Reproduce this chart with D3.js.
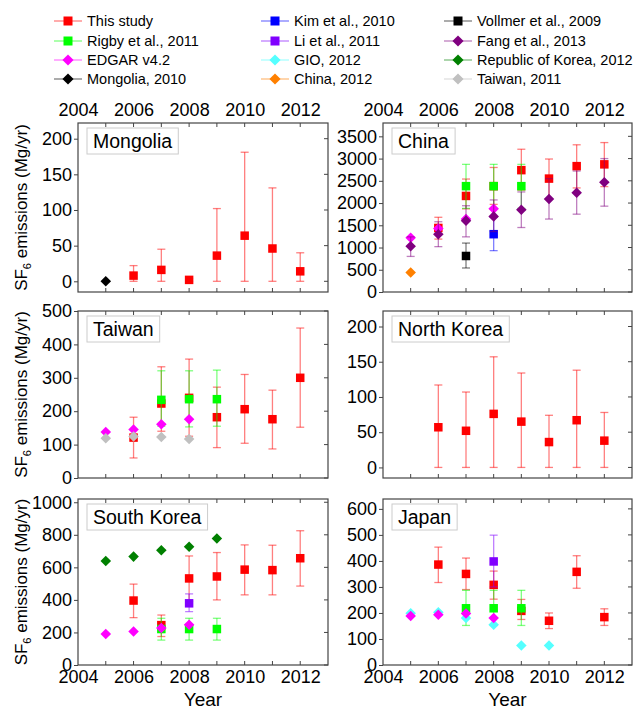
<!DOCTYPE html>
<html><head><meta charset="utf-8">
<script src="https://cdn.jsdelivr.net/npm/d3@7"></script>
<style>body{margin:0;background:#fff}svg{font-family:Arial,"Liberation Sans",sans-serif}</style>
</head><body><svg id="c" width="633" height="709"></svg>
<script>
// ---------- series definitions ----------
const seriesNames = ["This study","Kim et al., 2010","Vollmer et al., 2009","Rigby et al., 2011","Li et al., 2011","Fang et al., 2013","EDGAR v4.2","GIO, 2012","Republic of Korea, 2012","Mongolia, 2010","China, 2012","Taiwan, 2011"];
const seriesColors = ["#ff0000","#0000ff","#000000","#00ff00","#8000ff","#800080","#ff00ff","#55ffff","#008000","#000000","#ff8000","#c0c0c0"];
const seriesShapes = ["square","square","square","square","square","diamond","diamond","diamond","diamond","diamond","diamond","diamond"];
const drawOrder = [0,1,2,3,4,7,6,8,9,10,11,5];

// ---------- data: [year, value, lower, upper] ----------
const mongoliaThisStudy = [[2006,8,0,22],[2007,16,0,45],[2008,2,0,4],[2009,36,0,102],[2010,64,0,181],[2011,46,0,131],[2012,14,0,40]];
const mongoliaInventory = [[2005,0]];

const chinaThisStudy = [[2006,1440,1190,1680],[2007,2160,1870,2540],[2008,2380,1970,2800],[2009,2740,2290,3210],[2010,2550,2100,2990],[2011,2830,2340,3310],[2012,2870,2370,3360]];
const chinaRigby = [[2007,2380,1880,2870],[2008,2380,1880,2870],[2009,2380,1880,2870]];
const chinaKim = [[2008,1300,930,1680]];
const chinaVollmer = [[2007,810,540,1100]];
const chinaFang = [[2005,1030,800,1240],[2006,1300,1020,1580],[2007,1600,1240,1940],[2008,1700,1360,2070],[2009,1850,1450,2250],[2010,2090,1640,2550],[2011,2230,1750,2720],[2012,2470,1930,3000]];
const chinaEdgar = [[2005,1220],[2006,1430],[2007,1640],[2008,1870]];
const chinaInventory = [[2005,440]];

const taiwanThisStudy = [[2006,121,60,182],[2007,223,140,333],[2008,240,125,356],[2009,182,91,272],[2010,206,104,310],[2011,176,87,263],[2012,300,152,449]];
const taiwanRigby = [[2007,234,155,321],[2008,236,153,321],[2009,236,155,323]];
const taiwanEdgar = [[2005,138],[2006,145],[2007,161],[2008,176]];
const taiwanInventory = [[2005,119],[2006,124],[2007,123],[2008,117]];

const northKoreaThisStudy = [[2006,57,0,117],[2007,52,0,107],[2008,76,0,157],[2009,65,0,134],[2010,36,0,74],[2011,67,0,138],[2012,38,0,78]];

const southKoreaThisStudy = [[2006,396,291,497],[2007,245,175,307],[2008,532,392,670],[2009,544,400,691],[2010,586,431,738],[2011,583,431,736],[2012,656,485,825]];
const southKoreaRigby = [[2007,221,153,287],[2008,221,153,287],[2009,221,153,287]];
const southKoreaLi = [[2008,379,328,437]];
const southKoreaEdgar = [[2005,190],[2006,206],[2007,227],[2008,247]];
const southKoreaInventory = [[2005,639],[2006,666],[2007,705],[2008,726],[2009,777]];

const japanThisStudy = [[2006,386,317,453],[2007,350,290,411],[2008,308,253,361],[2009,208,175,252],[2010,170,140,200],[2011,358,295,420],[2012,184,152,216]];
const japanRigby = [[2007,218,152,287],[2008,218,152,287],[2009,218,152,287]];
const japanLi = [[2008,398,300,499]];
const japanEdgar = [[2005,188],[2006,193],[2007,198],[2008,181]];
const japanGio = [[2005,199],[2006,203],[2007,181],[2008,155],[2009,75],[2010,75]];

// ---------- axes ----------
const yearDomain = [2004, 2013];
const yearTicks = [2004,2005,2006,2007,2008,2009,2010,2011,2012];
const yearLabels = [2004,2006,2008,2010,2012];
const mongoliaTicks = [0,50,100,150,200];
const chinaTicks = [0,500,1000,1500,2000,2500,3000,3500];
const taiwanTicks = [0,100,200,300,400,500];
const northKoreaTicks = [0,50,100,150,200];
const southKoreaTicks = [0,200,400,600,800,1000];
const japanTicks = [0,100,200,300,400,500,600];

const panels = [
  {name:"Mongolia", col:0,row:0, domain:[-15,222], ticks:mongoliaTicks, series:[[0,mongoliaThisStudy],[9,mongoliaInventory]]},
  {name:"China", col:1,row:0, domain:[0,3800], ticks:chinaTicks, series:[[0,chinaThisStudy],[1,chinaKim],[2,chinaVollmer],[3,chinaRigby],[5,chinaFang],[6,chinaEdgar],[10,chinaInventory]]},
  {name:"Taiwan", col:0,row:1, domain:[0,500], ticks:taiwanTicks, series:[[0,taiwanThisStudy],[3,taiwanRigby],[6,taiwanEdgar],[11,taiwanInventory]]},
  {name:"North Korea", col:1,row:1, domain:[-15,222], ticks:northKoreaTicks, series:[[0,northKoreaThisStudy]]},
  {name:"South Korea", col:0,row:2, domain:[0,1020], ticks:southKoreaTicks, series:[[0,southKoreaThisStudy],[3,southKoreaRigby],[4,southKoreaLi],[6,southKoreaEdgar],[8,southKoreaInventory]]},
  {name:"Japan", col:1,row:2, domain:[0,638], ticks:japanTicks, series:[[0,japanThisStudy],[3,japanRigby],[4,japanLi],[6,japanEdgar],[7,japanGio]]}
];

const colX = [[78,328],[383,632]];
const rowY = [[123,292],[311,478],[499,665]];
const frameColor = "#444";
const FONT = "Arial, 'Liberation Sans', sans-serif";

const svg = d3.select("#c");

function marker(g, shape, color, cx, cy, s) {
  if (shape === "square") {
    g.append("rect").attr("x", cx - s/2).attr("y", cy - s/2).attr("width", s).attr("height", s).attr("fill", color);
  } else {
    const r = s * 0.62;
    g.append("path").attr("d", `M${cx},${cy-r}L${cx+r},${cy}L${cx},${cy+r}L${cx-r},${cy}Z`).attr("fill", color);
  }
}

panels.forEach(p => {
  const [x0, x1] = colX[p.col];
  const [y0, y1] = rowY[p.row];
  const x = d3.scaleLinear().domain(yearDomain).range([x0, x1]);
  const y = d3.scaleLinear().domain(p.domain).range([y1, y0]);
  const g = svg.append("g");

  // left axis (outward ticks)
  const ya = g.append("g").attr("transform", `translate(${x0},0)`)
    .call(d3.axisLeft(y).tickValues(p.ticks).tickSize(4).tickPadding(2).tickFormat(d3.format("d")));
  ya.select(".domain").remove();
  ya.selectAll("line").attr("stroke", frameColor);
  ya.selectAll("text").attr("font-size", 18).attr("fill", "#000").attr("font-family", FONT);

  // right inward ticks
  g.selectAll(".rt").data(p.ticks).enter().append("line")
    .attr("x1", x1 - 4).attr("x2", x1).attr("y1", d => y(d)).attr("y2", d => y(d)).attr("stroke", frameColor);
  // top & bottom inward ticks
  g.selectAll(".bt").data(yearTicks.slice(1)).enter().append("line")
    .attr("x1", d => x(d)).attr("x2", d => x(d)).attr("y1", y1 - 4).attr("y2", y1).attr("stroke", frameColor);
  g.selectAll(".tt").data(yearTicks.slice(1)).enter().append("line")
    .attr("x1", d => x(d)).attr("x2", d => x(d)).attr("y1", y0).attr("y2", y0 + 4).attr("stroke", frameColor);

  // x labels
  if (p.row === 0) {
    const xa = g.append("g").attr("transform", `translate(0,${y0})`)
      .call(d3.axisTop(x).tickValues(yearLabels).tickSize(0).tickPadding(7).tickFormat(d3.format("d")));
    xa.select(".domain").remove();
    xa.selectAll("text").attr("font-size", 18).attr("fill", "#000").attr("font-family", FONT);
  }
  if (p.row === 2) {
    const xa = g.append("g").attr("transform", `translate(0,${y1})`)
      .call(d3.axisBottom(x).tickValues(yearLabels).tickSize(0).tickPadding(5).tickFormat(d3.format("d")));
    xa.select(".domain").remove();
    xa.selectAll("text").attr("font-size", 18).attr("fill", "#000").attr("font-family", FONT);
    g.append("text").attr("x", (x0 + x1) / 2).attr("y", 706).attr("text-anchor", "middle")
      .attr("font-size", 19).text("Year");
  }

  // y title
  if (p.col === 0) {
    const t = g.append("text").attr("transform", `translate(27,${(y0 + y1) / 2}) rotate(-90)`)
      .attr("text-anchor", "middle").attr("font-size", 17);
    t.append("tspan").text("SF");
    t.append("tspan").attr("dy", 4).attr("font-size", 11).text("6");
    t.append("tspan").attr("dy", -4).text(" emissions (Mg/yr)");
  }

  // data
  const byIdx = new Map(p.series);
  const clipId = "clip" + p.col + p.row;
  g.append("clipPath").attr("id", clipId).append("rect").attr("x", x0).attr("y", y0).attr("width", x1 - x0).attr("height", y1 - y0);
  const dg = g.append("g").attr("clip-path", `url(#${clipId})`);
  drawOrder.forEach(si => {
    if (!byIdx.has(si)) return;
    const data = byIdx.get(si);
    const color = seriesColors[si];
    data.forEach(d => {
      if (d.length > 2) {
        const cx = x(d[0]);
        const eg = dg.append("g").attr("stroke", color).attr("stroke-opacity", 0.5).attr("stroke-width", 1.3);
        eg.append("line").attr("x1", cx).attr("x2", cx).attr("y1", y(d[2])).attr("y2", y(d[3]));
        eg.append("line").attr("x1", cx - 4).attr("x2", cx + 4).attr("y1", y(d[2])).attr("y2", y(d[2]));
        eg.append("line").attr("x1", cx - 4).attr("x2", cx + 4).attr("y1", y(d[3])).attr("y2", y(d[3]));
      }
    });
    data.forEach(d => marker(dg, seriesShapes[si], color, x(d[0]), y(d[1]), 8.5));
  });

  // frame
  g.append("rect").attr("x", x0).attr("y", y0).attr("width", x1 - x0).attr("height", y1 - y0)
    .attr("fill", "none").attr("stroke", frameColor).attr("stroke-width", 1.2);

  // panel label box
  const box = g.append("rect").attr("x", x0 + 9).attr("y", y0 + 5).attr("height", 26)
    .attr("fill", "#fff").attr("stroke", "#ccc").attr("stroke-width", 1);
  const lbl = g.append("text").attr("x", x0 + 15).attr("y", y0 + 25).attr("font-size", 19.5).text(p.name);
  box.attr("width", lbl.node().getBBox().width + 12);
});

// ---------- legend ----------
const legendColX = [68, 275, 458];
const legendRowY = [21, 41, 60, 79];
seriesNames.forEach((name, i) => {
  const c = i % 3, r = Math.floor(i / 3);
  const cx = legendColX[c], cy = legendRowY[r];
  const lg = svg.append("g");
  lg.append("line").attr("x1", cx - 14).attr("x2", cx + 14).attr("y1", cy).attr("y2", cy)
    .attr("stroke", seriesColors[i]).attr("stroke-opacity", 0.5).attr("stroke-width", 1.3);
  marker(lg, seriesShapes[i], seriesColors[i], cx, cy, 9);
  lg.append("text").attr("x", cx + 19).attr("y", cy + 5).attr("font-size", 14.5).text(name);
});
</script></body></html>
